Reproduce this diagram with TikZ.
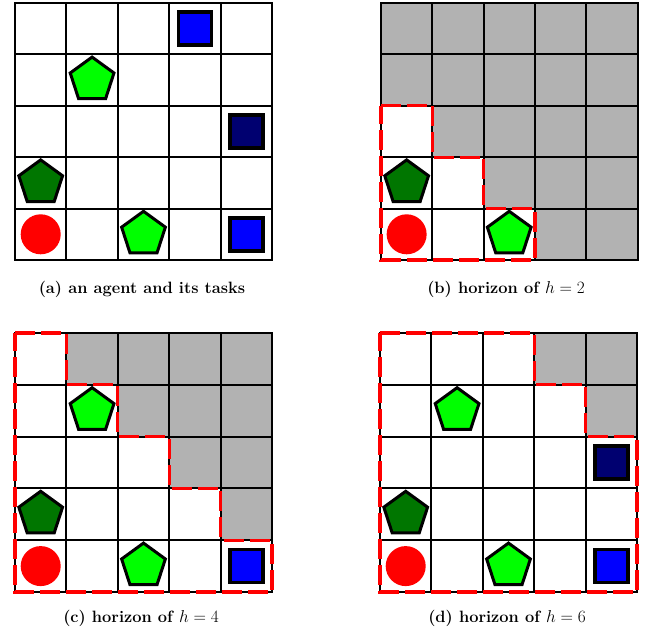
\documentclass[tikz,border=0pt]{standalone}
\usetikzlibrary{shapes.geometric}
\definecolor{cellgray}{RGB}{178,178,178}
\definecolor{taskblue}{RGB}{0,0,255}
\definecolor{tasknavy}{RGB}{0,0,112}
\definecolor{tasklime}{RGB}{0,255,0}
\definecolor{taskdark}{RGB}{0,118,0}
\definecolor{agentred}{RGB}{255,0,0}
\tikzset{
  gridline/.style={draw=black,line width=2pt,line cap=rect},
  hidden/.style={fill=cellgray},
  horizonline/.style={draw=agentred,line width=3.2pt,dash pattern=on 20pt off 6pt,line join=miter},
  pent/.style={regular polygon,regular polygon sides=5,minimum size=46pt,inner sep=0pt,draw=black,line width=3pt},
  sq/.style={rectangle,minimum size=33pt,inner sep=0pt,draw=black,line width=3.5pt},
  agent/.style={circle,minimum size=40pt,inner sep=0pt,fill=agentred},
  caption/.style={anchor=base,font=\fontsize{16.4}{18}\selectfont\bfseries},
}
\newcommand{\cellgrid}{\foreach \k in {0,...,5} {\draw[gridline] (\k,0) -- (\k,5); \draw[gridline] (0,\k) -- (5,\k);}}
\begin{document}
\begin{tikzpicture}[x=1pt,y=-1pt]
\useasboundingbox (0,0) rectangle (646,628);
% ---------- (a) ----------
\begin{scope}[shift={(15,3)},x=51.4pt,y=-51.4pt]
  \cellgrid
  \node[sq,fill=taskblue] (a03) at (3.5,0.5) {};
  \node[pent,fill=tasklime] (a11) at (1.5,1.5) {};
  \node[sq,fill=tasknavy] (a24) at (4.5,2.5) {};
  \node[pent,fill=taskdark] (a30) at (0.5,3.5) {};
  \node[agent] (a40) at (0.5,4.5) {};
  \node[pent,fill=tasklime] (a42) at (2.5,4.5) {};
  \node[sq,fill=taskblue] (a44) at (4.5,4.5) {};
\end{scope}
\node[caption] (capa) at (142,294) {(a) an agent and its tasks};
% ---------- (b) ----------
\begin{scope}[shift={(381,3)},x=51.3pt,y=-51.4pt]
  \fill[hidden] (0,0) rectangle (5,2);
  \fill[hidden] (1,2) rectangle (5,3);
  \fill[hidden] (2,3) rectangle (5,4);
  \fill[hidden] (3,4) rectangle (5,5);
  \cellgrid
  \node[pent,fill=taskdark] (b30) at (0.5,3.5) {};
  \node[agent] (b40) at (0.5,4.5) {};
  \node[pent,fill=tasklime] (b42) at (2.5,4.5) {};
  \draw[horizonline] (0,2) -- (1,2) -- (1,3) -- (2,3) -- (2,4) -- (3,4) -- (3,5) -- (0,5) -- cycle;
\end{scope}
\node[caption] (capb) at (506,294) {(b) horizon of $h = 2$};
% ---------- (c) ----------
\begin{scope}[shift={(15,333)},x=51.4pt,y=-51.8pt]
  \fill[hidden] (1,0) rectangle (5,1);
  \fill[hidden] (2,1) rectangle (5,2);
  \fill[hidden] (3,2) rectangle (5,3);
  \fill[hidden] (4,3) rectangle (5,4);
  \cellgrid
  \node[pent,fill=tasklime] (c11) at (1.5,1.5) {};
  \node[pent,fill=taskdark] (c30) at (0.5,3.5) {};
  \node[agent] (c40) at (0.5,4.5) {};
  \node[pent,fill=tasklime] (c42) at (2.5,4.5) {};
  \node[sq,fill=taskblue] (c44) at (4.5,4.5) {};
  \draw[horizonline] (0,0) -- (1,0) -- (1,1) -- (2,1) -- (2,2) -- (3,2) -- (3,3) -- (4,3) -- (4,4) -- (5,4) -- (5,5) -- (0,5) -- cycle;
\end{scope}
\node[caption] (capc) at (141,622) {(c) horizon of $h = 4$};
% ---------- (d) ----------
\begin{scope}[shift={(380,333)},x=51.4pt,y=-51.8pt]
  \fill[hidden] (3,0) rectangle (5,1);
  \fill[hidden] (4,1) rectangle (5,2);
  \cellgrid
  \node[pent,fill=tasklime] (d11) at (1.5,1.5) {};
  \node[sq,fill=tasknavy] (d24) at (4.5,2.5) {};
  \node[pent,fill=taskdark] (d30) at (0.5,3.5) {};
  \node[agent] (d40) at (0.5,4.5) {};
  \node[pent,fill=tasklime] (d42) at (2.5,4.5) {};
  \node[sq,fill=taskblue] (d44) at (4.5,4.5) {};
  \draw[horizonline] (0,0) -- (3,0) -- (3,1) -- (4,1) -- (4,2) -- (5,2) -- (5,5) -- (0,5) -- cycle;
\end{scope}
\node[caption] (capd) at (507,622) {(d) horizon of $h = 6$};
\end{tikzpicture}
\end{document}
